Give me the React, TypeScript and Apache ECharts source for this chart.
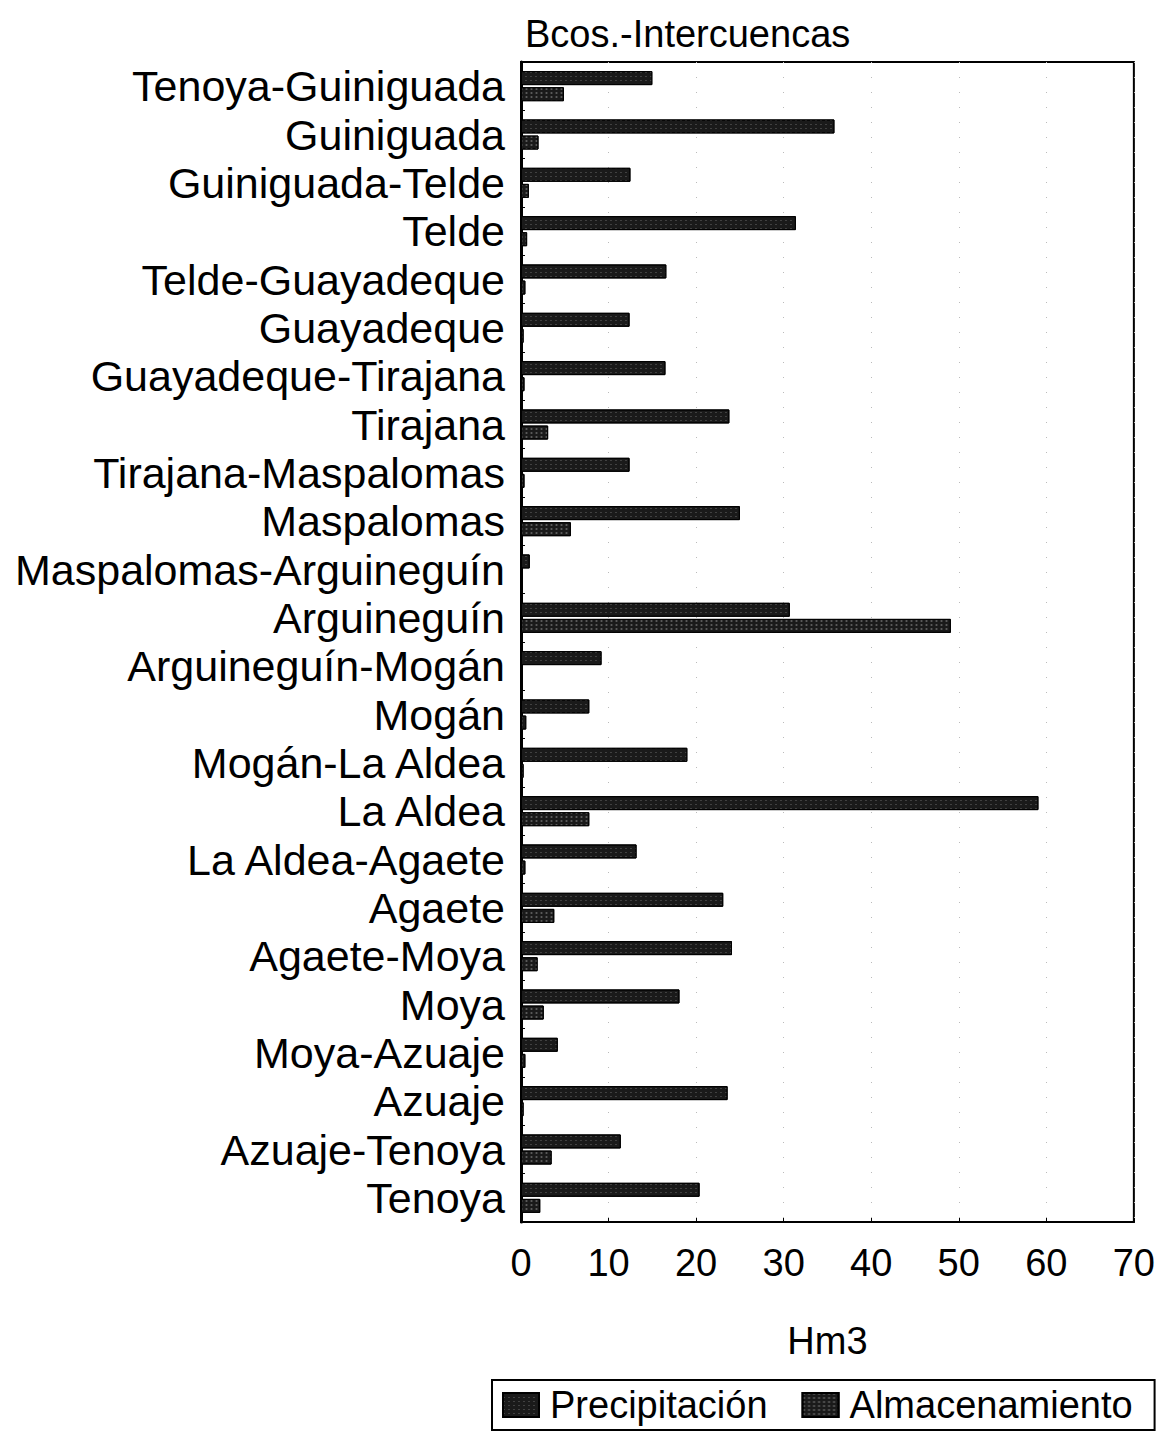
import React, { useEffect, useRef } from "react";
import * as echarts from "echarts";

const categories = [
  "Tenoya-Guiniguada", "Guiniguada", "Guiniguada-Telde", "Telde", "Telde-Guayadeque",
  "Guayadeque", "Guayadeque-Tirajana", "Tirajana", "Tirajana-Maspalomas", "Maspalomas",
  "Maspalomas-Arguineguín", "Arguineguín", "Arguineguín-Mogán", "Mogán", "Mogán-La Aldea",
  "La Aldea", "La Aldea-Agaete", "Agaete", "Agaete-Moya", "Moya", "Moya-Azuaje",
  "Azuaje", "Azuaje-Tenoya", "Tenoya",
];

const precipitacion = [
  15.0, 35.8, 12.5, 31.4, 16.6, 12.4, 16.5, 23.8, 12.4, 25.0,
  1.0, 30.7, 9.2, 7.8, 19.0, 59.1, 13.2, 23.1, 24.1, 18.1,
  4.2, 23.6, 11.4, 20.4,
];

const almacenamiento = [
  4.9, 2.0, 0.9, 0.7, 0.5, 0.3, 0.4, 3.1, 0.4, 5.7,
  0, 49.1, 0, 0.6, 0.3, 7.8, 0.5, 3.8, 1.9, 2.6,
  0.5, 0.3, 3.5, 2.2,
];

const xTicks = { min: 0, max: 70, interval: 10 };

export default function App() {
  const ref = useRef<HTMLDivElement>(null);
  useEffect(() => {
    if (!ref.current) return;
    const chart = echarts.init(ref.current, null, { renderer: "svg" });
    const font = "'Liberation Sans', Arial, sans-serif";
    const decal = {
      symbol: "rect",
      symbolSize: 0.6,
      color: "rgba(255,255,255,0.55)",
      dashArrayX: [2, 3],
      dashArrayY: [1, 3],
      rotation: 0,
    };
    chart.setOption({
      animation: false,
      backgroundColor: "#fff",
      title: {
        text: "Bcos.-Intercuencas",
        left: 520,
        top: 10,
        textStyle: { fontFamily: font, fontSize: 38, fontWeight: "normal", color: "#000" },
      },
      grid: {
        left: 521,
        top: 62,
        right: 22,
        bottom: 211,
        show: true,
        borderColor: "#000",
        borderWidth: 2,
        backgroundColor: "transparent",
      },
      xAxis: {
        type: "value",
        min: xTicks.min,
        max: xTicks.max,
        interval: xTicks.interval,
        name: "Hm3",
        nameLocation: "middle",
        nameGap: 100,
        nameTextStyle: { fontFamily: font, fontSize: 38, color: "#000" },
        axisLine: { show: true, lineStyle: { color: "#000", width: 2 } },
        axisTick: { show: true, inside: true, length: 4, lineStyle: { color: "#000" } },
        axisLabel: { fontFamily: font, fontSize: 38, color: "#000", margin: 22 },
        splitLine: { show: true, lineStyle: { color: "#bbb", type: [1, 14], width: 1 } },
      },
      yAxis: {
        type: "category",
        data: categories,
        inverse: true,
        axisLine: { show: true, lineStyle: { color: "#000", width: 3 } },
        axisTick: { show: true, inside: true, length: 4, lineStyle: { color: "#000" } },
        axisLabel: { fontFamily: font, fontSize: 43, color: "#000", margin: 16, interval: 0 },
        splitLine: { show: false },
      },
      legend: {
        left: 492,
        top: 1380,
        icon: "rect",
        itemWidth: 36,
        itemHeight: 24,
        itemGap: 34,
        padding: [6, 22, 6, 10],
        borderColor: "#000",
        borderWidth: 2,
        textStyle: { fontFamily: font, fontSize: 38, color: "#000", padding: [0, 0, 0, 6] },
        data: ["Precipitación", "Almacenamiento"],
      },
      series: [
        {
          name: "Precipitación",
          type: "bar",
          data: precipitacion,
          barWidth: 14,
          barGap: "15%",
          itemStyle: { color: "#1a1a1a", borderColor: "#000", borderWidth: 1, decal },
        },
        {
          name: "Almacenamiento",
          type: "bar",
          data: almacenamiento,
          barWidth: 14,
          barGap: "15%",
          itemStyle: {
            color: "#1a1a1a",
            borderColor: "#000",
            borderWidth: 1,
            decal: { ...decal, dashArrayX: [3, 2], dashArrayY: [2, 2] },
          },
        },
      ],
    });
    return () => chart.dispose();
  }, []);
  return (
    <div
      ref={ref}
      style={{ width: 1158, height: 1433, position: "absolute", left: 0, top: 0 }}
    />
  );
}
